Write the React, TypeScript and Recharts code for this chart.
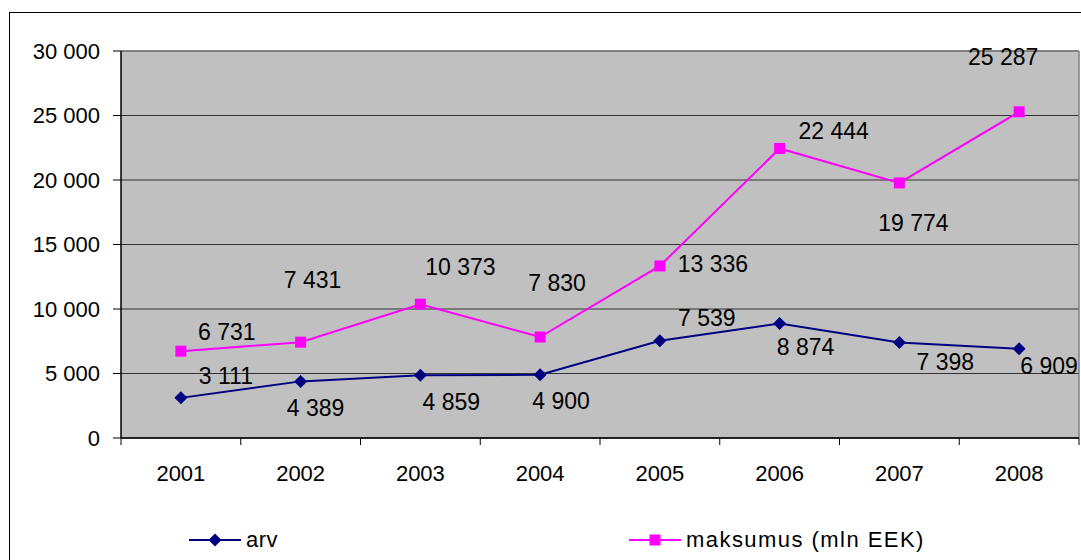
import React from 'react';
import { LineChart, Line, XAxis, YAxis, CartesianGrid, Legend, ReferenceLine } from 'recharts';

const years = ['2001', '2002', '2003', '2004', '2005', '2006', '2007', '2008'];
const arv = [3111, 4389, 4859, 4900, 7539, 8874, 7398, 6909];
const maksumus = [6731, 7431, 10373, 7830, 13336, 22444, 19774, 25287];
const yTicks = [0, 5000, 10000, 15000, 20000, 25000, 30000];
const arvName = 'arv';
const maksName = 'maksumus (mln EEK)';

// label placement (text centre offset from its point), layout only
const arvLabelOffsets = [[45, -22], [15, 27], [31, 27], [21, 26], [47, -23], [26, 23], [46, 19], [30, 17]];
const maksLabelOffsets = [[46, -19], [12, -62], [40, -37], [17, -54], [53, -2], [54, -17], [14, 40], [-16, -55]];

const data = years.map((y, i) => ({ year: y, pos: i + 0.5, arv: arv[i], maksumus: maksumus[i] }));
const xTicks: number[] = [];
for (let i = 0; i <= years.length * 2; i++) xTicks.push(i / 2);

const FONT = '"Liberation Sans", Arial, sans-serif';
const NAVY = '#000080';
const MAGENTA = '#FF00FF';

const fmt = (v: number) => String(v).replace(/\B(?=(\d{3})+(?!\d))/g, ' ');

const XTick = (props: any) => {
  const { x, y, payload } = props;
  const v = payload.value;
  if (Number.isInteger(v)) {
    return <line x1={x} x2={x} y1={y} y2={y + 7} stroke="#000" strokeWidth={1} />;
  }
  return (
    <text x={x} y={y + 43} textAnchor="middle" fontFamily={FONT} fontSize={22} fill="#000">
      {years[Math.floor(v)]}
    </text>
  );
};

const makeDot = (kind: 'diamond' | 'square', offsets: number[][]) => (p: any) => {
  const { cx, cy, index, value } = p;
  if (cx == null || cy == null) return <g key={index} />;
  const [dx, dy] = offsets[index] || [0, 0];
  const shape =
    kind === 'diamond' ? (
      <polygon points={`${cx},${cy - 6.5} ${cx + 6.5},${cy} ${cx},${cy + 6.5} ${cx - 6.5},${cy}`} fill={NAVY} />
    ) : (
      <rect x={cx - 5.5} y={cy - 5.5} width={11} height={11} fill={MAGENTA} />
    );
  const v = Array.isArray(value) ? value[1] : value;
  return (
    <g key={index}>
      {shape}
      <text x={cx + dx} y={cy + dy + 8} textAnchor="middle" fontFamily={FONT} fontSize={23} fill="#000">
        {fmt(v)}
      </text>
    </g>
  );
};

const renderLegend = () => (
  <div style={{ position: 'relative', height: 28, fontFamily: FONT, fontSize: 22, color: '#000' }}>
    <div style={{ position: 'absolute', left: 189, top: 0, height: 28, display: 'flex', alignItems: 'center' }}>
      <svg width={52} height={14} style={{ display: 'block' }}>
        <line x1={0} y1={7} x2={52} y2={7} stroke={NAVY} strokeWidth={2} />
        <polygon points="26,0.5 32.5,7 26,13.5 19.5,7" fill={NAVY} />
      </svg>
      <span style={{ marginLeft: 5, letterSpacing: 0.5 }}>{arvName}</span>
    </div>
    <div style={{ position: 'absolute', left: 629, top: 0, height: 28, display: 'flex', alignItems: 'center' }}>
      <svg width={52} height={14} style={{ display: 'block' }}>
        <line x1={0} y1={7} x2={52} y2={7} stroke={MAGENTA} strokeWidth={2} />
        <rect x={20.5} y={1.5} width={11} height={11} fill={MAGENTA} />
      </svg>
      <span style={{ marginLeft: 5, letterSpacing: 1.45 }}>{maksName}</span>
    </div>
  </div>
);

export default function App() {
  return (
    <div style={{ position: 'fixed', left: 0, top: 0, right: 0, bottom: 0, overflow: 'hidden', background: '#fff' }}>
      <div
        style={{
          position: 'absolute',
          left: 9,
          top: 12,
          width: 1200,
          height: 700,
          borderLeft: '1.5px solid #000',
          borderTop: '1.5px solid #000',
        }}
      />
      <div style={{ position: 'absolute', left: 0, top: 0 }}>
        <LineChart width={1081} height={560} data={data} margin={{ top: 51, right: 2, bottom: 72, left: 61 }}>
          <CartesianGrid vertical={false} horizontal={true} stroke="#333" fill="#C0C0C0" fillOpacity={1} />
          <XAxis
            dataKey="pos"
            type="number"
            domain={[0, 8]}
            ticks={xTicks}
            interval={0}
            tickLine={false}
            tickSize={0}
            tickMargin={0}
            axisLine={{ stroke: '#000', strokeWidth: 1.5 }}
            height={50}
            tick={<XTick />}
            allowDecimals
          />
          <YAxis
            domain={[0, 30000]}
            ticks={yTicks}
            interval={0}
            tickFormatter={fmt}
            width={60}
            tickSize={8}
            tickMargin={13}
            axisLine={{ stroke: '#000', strokeWidth: 1.5 }}
            tickLine={{ stroke: '#000' }}
            tick={{ fill: '#000', fontSize: 22, fontFamily: FONT }}
          />
          <ReferenceLine y={30000} stroke="#808080" strokeWidth={1.5} />
          <ReferenceLine x={8} stroke="#808080" strokeWidth={1.5} />
          <Line
            dataKey="arv"
            name={arvName}
            stroke={NAVY}
            strokeWidth={2}
            isAnimationActive={false}
            dot={makeDot('diamond', arvLabelOffsets)}
            activeDot={false}
          />
          <Line
            dataKey="maksumus"
            name={maksName}
            stroke={MAGENTA}
            strokeWidth={2}
            isAnimationActive={false}
            dot={makeDot('square', maksLabelOffsets)}
            activeDot={false}
          />
          <Legend
            layout="horizontal"
            verticalAlign="middle"
            align="center"
            content={renderLegend}
            wrapperStyle={{ top: 526, left: 0, width: 1081, height: 28 }}
          />
        </LineChart>
      </div>
    </div>
  );
}
